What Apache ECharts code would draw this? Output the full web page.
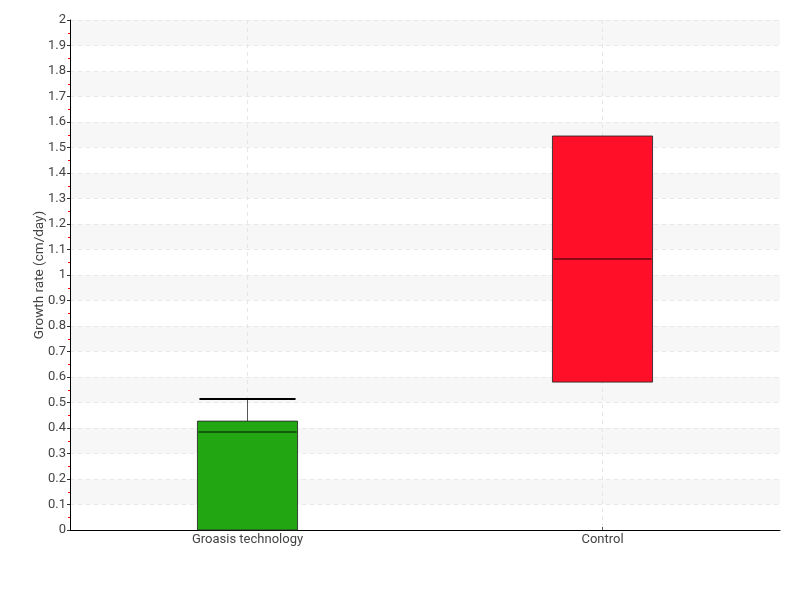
<!DOCTYPE html>
<html>
<head>
<meta charset="utf-8">
<script src="https://cdn.jsdelivr.net/npm/echarts@6/dist/echarts.min.js"></script>
<style>html,body{margin:0;padding:0;background:#fff;}#c{width:800px;height:600px;}</style>
</head>
<body>
<div id="c"></div>
<script>
var categories = ['Groasis technology', 'Control'];
var whiskerLow = [0, 0.58];
var q1 = [0, 0.58];
var median = [0.384, 1.063];
var q3 = [0.427, 1.545];
var whiskerHigh = [0.514, 1.545];
var yTicks = { min: 0, max: 2, interval: 0.1 };

var boxColors = ['#22a612', '#ff0f28'];
var FONT = 'Roboto, "Open Sans", sans-serif';

var data = categories.map(function (c, i) {
  return [i, whiskerLow[i], q1[i], median[i], q3[i], whiskerHigh[i]];
});

var chart = echarts.init(document.getElementById('c'), null, { renderer: 'canvas' });
chart.setOption({
  animation: false,
  backgroundColor: '#fff',
  grid: { left: 70, right: 20, top: 20, bottom: 70, containLabel: false },
  xAxis: {
    type: 'category',
    data: categories,
    axisLine: { lineStyle: { color: '#000', width: 1 } },
    axisTick: { show: true, inside: true, length: 3, alignWithLabel: true, lineStyle: { color: '#555' } },
    axisLabel: { color: '#444', fontFamily: FONT, fontSize: 13, margin: 3 },
    splitLine: { show: true, alignWithLabel: true, lineStyle: { color: '#e6e6e6', type: [4, 4] } }
  },
  yAxis: {
    type: 'value',
    min: yTicks.min, max: yTicks.max, interval: yTicks.interval,
    name: 'Growth rate (cm/day)',
    nameLocation: 'middle',
    nameGap: 23,
    nameMoveOverlap: false,
    nameTextStyle: { color: '#444', fontFamily: FONT, fontSize: 13.5 },
    axisLine: { show: true, lineStyle: { color: '#000', width: 1 } },
    axisTick: { show: true, length: 3, lineStyle: { color: '#333' } },
    minorTick: { show: true, splitNumber: 2, length: 2, lineStyle: { color: '#ff0000' } },
    axisLabel: {
      color: '#444', fontFamily: FONT, fontSize: 13, margin: 4,
      formatter: function (v) { return String(Math.round(v * 10) / 10); }
    },
    splitLine: { show: true, lineStyle: { color: '#e8e8e8', type: [4, 4] } },
    splitArea: { show: true, areaStyle: { color: ['rgba(255,255,255,0)', '#f7f7f7'] } }
  },
  series: [{
    type: 'custom',
    data: data,
    encode: { x: 0, y: [1, 2, 3, 4, 5] },
    renderItem: function (params, api) {
      var i = api.value(0);
      var band = api.size([1, 0])[0];
      var w = band * 0.282;
      var cx = api.coord([i, 0])[0];
      var yLow = api.coord([i, api.value(1)])[1];
      var yQ1 = api.coord([i, api.value(2)])[1];
      var yMed = api.coord([i, api.value(3)])[1];
      var yQ3 = api.coord([i, api.value(4)])[1];
      var yHigh = api.coord([i, api.value(5)])[1];
      var children = [];
      if (yHigh < yQ3 - 0.5) {
        children.push({ type: 'line', shape: { x1: cx, y1: yQ3, x2: cx, y2: yHigh }, style: { stroke: '#555', lineWidth: 1 } });
        children.push({ type: 'line', shape: { x1: cx - w * 0.48, y1: yHigh, x2: cx + w * 0.48, y2: yHigh }, style: { stroke: '#000', lineWidth: 2 } });
      }
      if (yLow > yQ1 + 0.5) {
        children.push({ type: 'line', shape: { x1: cx, y1: yQ1, x2: cx, y2: yLow }, style: { stroke: '#555', lineWidth: 1 } });
        children.push({ type: 'line', shape: { x1: cx - w * 0.48, y1: yLow, x2: cx + w * 0.48, y2: yLow }, style: { stroke: '#000', lineWidth: 2 } });
      }
      children.push({
        type: 'rect',
        shape: { x: cx - w / 2, y: yQ3, width: w, height: yQ1 - yQ3 },
        style: { fill: boxColors[i], stroke: 'rgba(40,40,40,0.85)', lineWidth: 1 }
      });
      children.push({
        type: 'line',
        shape: { x1: cx - w / 2 + 1, y1: yMed, x2: cx + w / 2 - 1, y2: yMed },
        style: { stroke: 'rgba(0,0,0,0.6)', lineWidth: 1.5 }
      });
      return { type: 'group', children: children };
    }
  }]
});
</script>
</body>
</html>
